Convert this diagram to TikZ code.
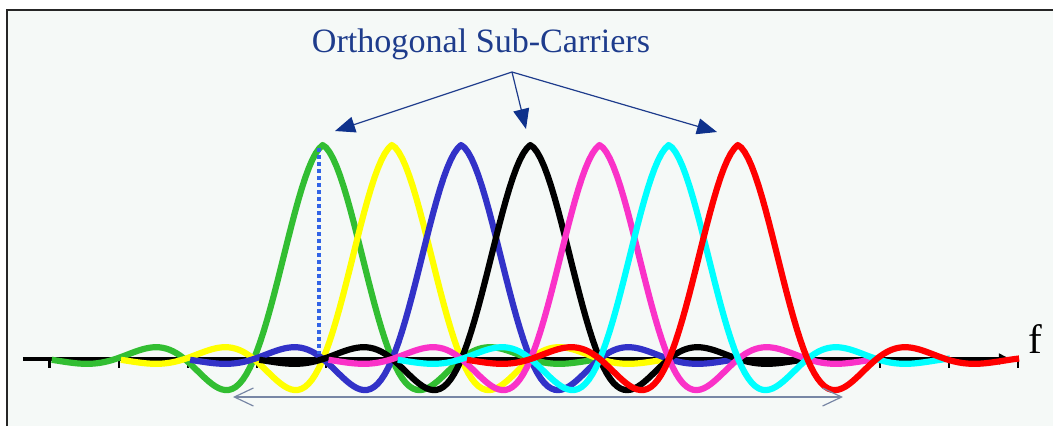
\documentclass[tikz,border=0pt]{standalone}
\usepackage{fontspec}
\setmainfont{Liberation Serif}
\usetikzlibrary{arrows.meta}
\definecolor{paper}{RGB}{245,249,247}
\definecolor{titleblue}{RGB}{30,60,140}
\definecolor{headblue}{RGB}{15,50,140}
\definecolor{bandgray}{RGB}{120,135,165}
\definecolor{dotblue}{RGB}{50,100,230}
\definecolor{scgreen}{RGB}{50,190,50}
\definecolor{scyellow}{RGB}{255,255,0}
\definecolor{scblue}{RGB}{50,50,200}
\definecolor{scmagenta}{RGB}{250,50,200}
\definecolor{sccyan}{RGB}{0,255,255}
\definecolor{scred}{RGB}{255,0,0}

\begin{document}
\begin{tikzpicture}[
        x=0.01cm, y=-0.01cm,
        declare function={sc(\t)=sin(180*\t)/(pi*\t)*exp(-0.2*abs(\t)-0.06*\t*\t);},
        carrier/.style={line width=0.062cm, draw=#1, line join=round, domain=-3.92:4.06, samples=160},
        axisline/.style={line width=0.04cm, -{Latex[length=0.14cm,width=0.12cm]}},
        tickmark/.style={line width=0.02cm},
        pointer/.style={-{Triangle[length=0.2cm,width=0.16cm,color=headblue]}, line width=0.012cm, draw=titleblue},
        band/.style={{Straight Barb[length=0.19cm,width=0.18cm]}-{Straight Barb[length=0.19cm,width=0.18cm]}, line width=0.012cm, draw=bandgray},
        marker/.style={line width=0.035cm, draw=dotblue, dash pattern=on 0.035cm off 0.035cm}
    ]
        \useasboundingbox (0,0) rectangle (1053,426);
        \fill[paper] (7,10) rectangle (1053,426);
        \draw[line width=0.025cm, black!85] (7,426) -- (7,10) -- (1053,10);

        \coordinate (axL) at (23,359);
        \coordinate (axR) at (1013,359);
        \draw[axisline] (axL) -- (axR);
        \foreach \k in {0,...,14}
            \draw[tickmark] ({49.5+69.2*\k},359) -- ++(0,9);

        \draw[carrier=scgreen] plot ({323+69.2*\x},{359-214*sc(\x)});
        \draw[carrier=scyellow] plot ({392.2+69.2*\x},{359-214*sc(\x)});
        \draw[carrier=scblue] plot ({461.4+69.2*\x},{359-214*sc(\x)});
        \draw[carrier=black] plot ({530.6+69.2*\x},{359-214*sc(\x)});
        \draw[carrier=scmagenta] plot ({599.8+69.2*\x},{359-214*sc(\x)});
        \draw[carrier=sccyan] plot ({669+69.2*\x},{359-214*sc(\x)});
        \draw[carrier=scred] plot ({738.2+69.2*\x},{359-214*sc(\x)});

        \coordinate (gpeak) at (319,148);
        \coordinate (gfoot) at (319,354);
        \draw[marker] (gpeak) -- (gfoot);

        \coordinate (bandL) at (233,397);
        \coordinate (bandR) at (843,397);
        \draw[band] (bandL) -- (bandR);

        \node[anchor=base, inner sep=0pt, text=titleblue, font=\fontsize{9.7}{11}\selectfont] (title) at (481,52) {Orthogonal Sub-Carriers};
        \coordinate (fork) at (512,72);
        \coordinate (tipA) at (335,131);
        \coordinate (tipB) at (526,129);
        \coordinate (tipC) at (717,132);
        \draw[pointer] (fork) -- (tipA);
        \draw[pointer] (fork) -- (tipB);
        \draw[pointer] (fork) -- (tipC);

        \node[anchor=base, inner sep=0pt, font=\fontsize{11.7}{13}\selectfont] (flabel) at (1035,353) {f};
    \end{tikzpicture}
\end{document}
